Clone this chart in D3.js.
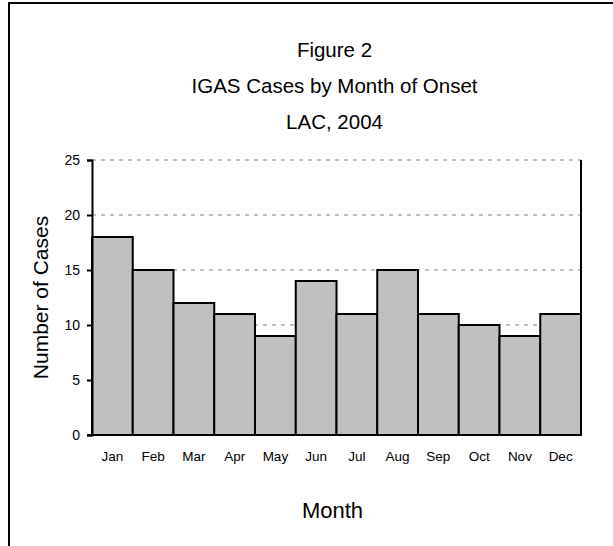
<!DOCTYPE html>
<html>
<head>
<meta charset="utf-8">
<script src="https://cdn.jsdelivr.net/npm/d3@7/dist/d3.min.js"></script>
<style>
  html, body { margin: 0; padding: 0; background: #fff; }
  svg { display: block; font-family: "Liberation Sans", Arial, sans-serif; }
</style>
</head>
<body>
<svg id="chart" width="613" height="546"></svg>
<script>
// Monthly counts of invasive group A strep cases, LAC 2004
const months = ["Jan", "Feb", "Mar", "Apr", "May", "Jun", "Jul", "Aug", "Sep", "Oct", "Nov", "Dec"];
const cases = [18, 15, 12, 11, 9, 14, 11, 15, 11, 10, 9, 11];
const yTicks = [0, 5, 10, 15, 20, 25];
const titleLines = ["Figure 2", "IGAS Cases by Month of Onset", "LAC, 2004"];

const svg = d3.select("#chart");
const W = 613, H = 546;

// outer chart frame (runs past the right and bottom edges)
svg.append("rect")
  .attr("x", 9).attr("y", 3)
  .attr("width", W + 20).attr("height", H + 20)
  .attr("fill", "#fff").attr("stroke", "#000").attr("stroke-width", 2);

const plot = { left: 92, right: 581, top: 160, bottom: 435 };

const x = d3.scaleBand().domain(months).range([plot.left, plot.right]).padding(0);
const y = d3.scaleLinear().domain([0, 25]).range([plot.bottom, plot.top]);

// title
const cx = (plot.left + plot.right) / 2;
svg.append("g").selectAll("text").data(titleLines).join("text")
  .attr("x", cx - 2)
  .attr("y", (d, i) => 57 + i * 36)
  .attr("text-anchor", "middle")
  .attr("font-size", 20.5)
  .attr("fill", "#000")
  .text(d => d);

// dashed gridlines
svg.append("g").selectAll("line").data(yTicks.filter(t => t > 0)).join("line")
  .attr("x1", plot.left).attr("x2", plot.right)
  .attr("y1", d => y(d)).attr("y2", d => y(d))
  .attr("stroke", "#c0c0c0").attr("stroke-width", 2)
  .attr("stroke-dasharray", "4,5");

// bars
svg.append("g").selectAll("rect").data(cases).join("rect")
  .attr("x", (d, i) => x(months[i]))
  .attr("y", d => y(d))
  .attr("width", x.bandwidth())
  .attr("height", d => y(0) - y(d))
  .attr("fill", "#c0c0c0")
  .attr("stroke", "#000")
  .attr("stroke-width", 2);

// plot area right border
svg.append("line")
  .attr("x1", plot.right).attr("x2", plot.right)
  .attr("y1", plot.top).attr("y2", plot.bottom)
  .attr("stroke", "#000").attr("stroke-width", 2);

// y axis
const yAxis = d3.axisLeft(y).tickValues(yTicks).tickSize(5).tickPadding(7).tickFormat(d3.format("d"));
const gy = svg.append("g").attr("transform", `translate(${plot.left},0)`).call(yAxis);
gy.select(".domain").attr("stroke", "#000").attr("stroke-width", 2);
gy.selectAll(".tick line").attr("stroke", "#000").attr("stroke-width", 2);
gy.selectAll(".tick text").attr("font-size", 14).attr("fill", "#000")
  .attr("font-family", "Liberation Sans, Arial, sans-serif");

// x axis
const xAxis = d3.axisBottom(x).tickSize(0).tickPadding(16);
const gx = svg.append("g").attr("transform", `translate(0,${plot.bottom})`).call(xAxis);
gx.select(".domain").attr("stroke", "#000").attr("stroke-width", 2)
  .attr("d", `M${plot.left - 5},0H${plot.right}`);
gx.selectAll(".tick text").attr("font-size", 13.5).attr("fill", "#000")
  .attr("font-family", "Liberation Sans, Arial, sans-serif");

// axis titles
svg.append("text")
  .attr("transform", `translate(48,${(plot.top + plot.bottom) / 2}) rotate(-90)`)
  .attr("text-anchor", "middle")
  .attr("font-size", 21)
  .text("Number of Cases");

svg.append("text")
  .attr("x", cx - 4).attr("y", 518)
  .attr("text-anchor", "middle")
  .attr("font-size", 22)
  .text("Month");
</script>
</body>
</html>
